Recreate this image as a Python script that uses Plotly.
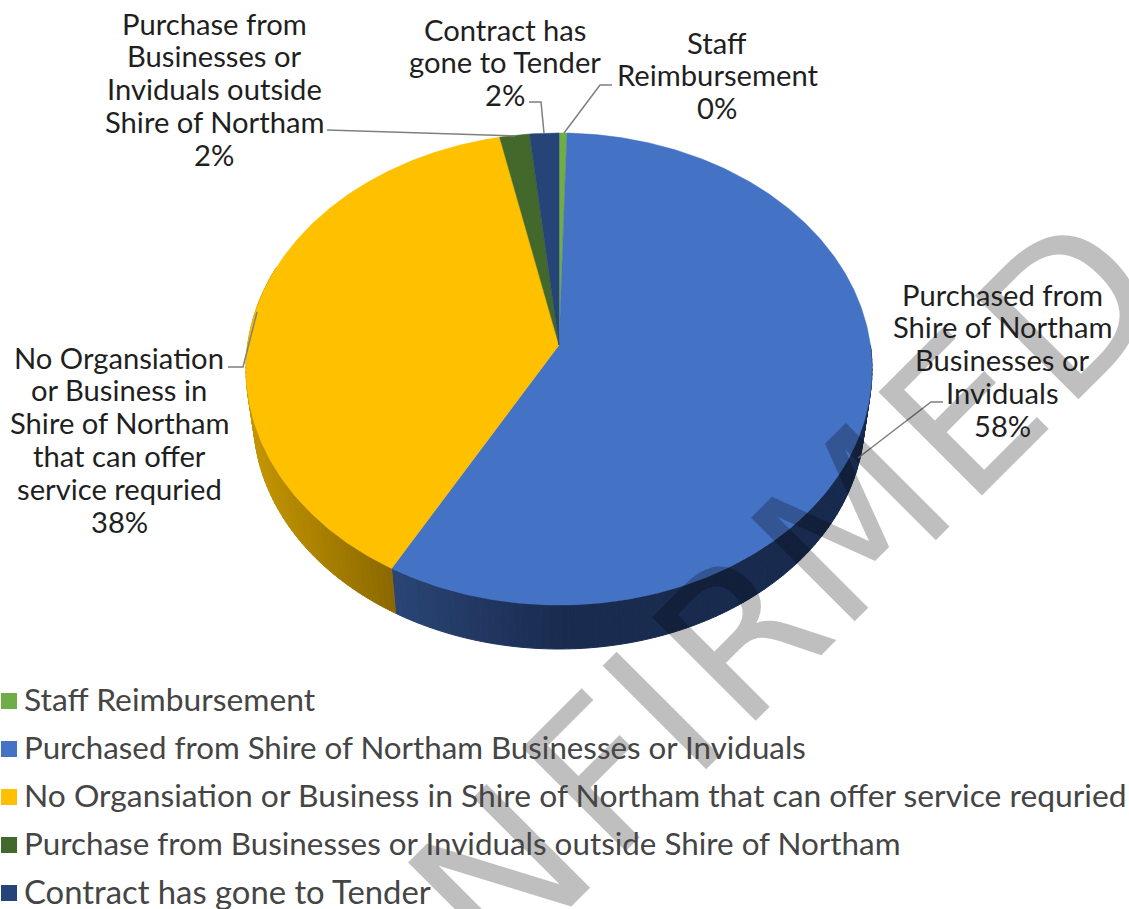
import numpy as np
import plotly.graph_objects as go

categories = ["Staff Reimbursement",
              "Purchased from Shire of Northam Businesses or Inviduals",
              "No Organsiation or Business in Shire of Northam that can offer service requried",
              "Purchase from Businesses or Inviduals outside Shire of Northam",
              "Contract has gone to Tender"]
values = [0.45, 57.7, 38.49, 1.7, 1.66]
colors = ["#70AD47", "#4472C4", "#FFC000", "#43682B", "#264478"]
label_lines = [["Staff", "Reimbursement"],
               ["Purchased from", "Shire of Northam", "Businesses or", "Inviduals"],
               ["No Organsiation", "or Business in", "Shire of Northam", "that can offer", "service requried"],
               ["Purchase from", "Businesses or", "Inviduals outside", "Shire of Northam"],
               ["Contract has", "gone to Tender"]]
watermark_letters = ["N", "F", "I", "R", "M", "E", "D"]

W, H = 1129, 909
CX, CY = 559, 345
KX, BY, CP = 311.4, -198.5, 0.1017
S_LOW, DY_LOW = 0.976, 50.2
FONT = "Lato"
FS_LABEL = 29.2
FS_LEGEND = [31.8, 31.3, 31.8, 31.4, 32.8]

watermark_pos = [(500.5, 877.5), (603, 774.5), (663.5, 713), (741.5, 636), (852, 525), (963.5, 415), (1069.5, 308.5)]
label_pos = [(717, 42), (1002, 294), (119, 357), (214, 23), (505, 29)]
leaders = [[(564, 133), (600, 85), (612, 85)],
           [(858, 458), (931, 402), (943, 402)],
           [(257, 312), (243, 367), (228, 367)],
           [(515, 136), (327, 130)],
           [(544, 133), (541, 102), (529, 102)]]
legend_y = [701, 749, 797, 845, 893]

side_stops = {1: ([396, 560, 870], ["#2A4575", "#1A2C50", "#172A4E"]),
              2: ([252, 395], ["#C49500", "#8A6800"])}


def top_pt(t):
    u, v = np.sin(t), np.cos(t)
    d = 1 + CP * v
    return CX + KX * u / d, (CY + BY * v) / d


def low_pt(t):
    x, y = top_pt(t)
    return CX + S_LOW * (x - CX), CY + DY_LOW + S_LOW * (y - CY)


def hex2rgb(h):
    return np.array([int(h[i:i + 2], 16) for i in (1, 3, 5)], float)


def shade(i, x):
    xs, cs = side_stops[i]
    rgb = [np.interp(x, xs, [hex2rgb(c)[k] for c in cs]) for k in range(3)]
    return "rgb(%d,%d,%d)" % tuple(rgb)


fig = go.Figure()
fractions = np.array(values) / sum(values)
edges = np.concatenate([[0], np.cumsum(fractions)]) * 2 * np.pi

# side wall, drawn as thin strips so that the shading can vary along it
for i, c in enumerate(colors):
    if i not in side_stops:
        continue
    a = max(edges[i], np.pi / 2)
    b = edges[i + 1]
    n = max(2, int((b - a) / 0.02))
    ts = np.linspace(a, b, n + 1)
    for t0, t1 in zip(ts[:-1], ts[1:]):
        if np.cos((t0 + t1) / 2) > 0.35:
            continue
        p = [top_pt(t0), top_pt(t1), low_pt(t1), low_pt(t0), top_pt(t0)]
        col = shade(i, (p[0][0] + p[1][0]) / 2)
        fig.add_trace(go.Scatter(x=[q[0] for q in p], y=[q[1] for q in p], mode="lines",
                                 fill="toself", fillcolor=col, line=dict(color=col, width=1),
                                 hoverinfo="skip", showlegend=False))

# top face
for i, c in enumerate(colors):
    ts = np.linspace(edges[i], edges[i + 1], max(3, int((edges[i + 1] - edges[i]) / 0.01)))
    pts = [top_pt(t) for t in ts]
    xs = [CX] + [q[0] for q in pts] + [CX]
    ys = [CY] + [q[1] for q in pts] + [CY]
    fig.add_trace(go.Scatter(x=xs, y=ys, mode="lines", fill="toself", fillcolor=c,
                             line=dict(color=c, width=0.5), name=categories[i],
                             hoverinfo="name", showlegend=False))

# leader lines
for seg in leaders:
    fig.add_trace(go.Scatter(x=[q[0] for q in seg], y=[q[1] for q in seg], mode="lines",
                             line=dict(color="#7F7F7F", width=1.5), hoverinfo="skip", showlegend=False))

# legend swatches
fig.add_trace(go.Scatter(x=[9] * 5, y=legend_y, mode="markers",
                         marker=dict(symbol="square", size=16, color=colors),
                         hoverinfo="skip", showlegend=False))

ann = []
# watermark
for ch, (wx, wy) in zip(watermark_letters, watermark_pos):
    ann.append(dict(x=wx, y=wy, xref="x", yref="y", text=ch, showarrow=False, textangle=-45,
                    font=dict(family="DejaVu Sans", size=201, color="rgba(0,0,0,0.25)")))
for i, lines in enumerate(label_lines):
    cx, y0 = label_pos[i]
    all_lines = lines + ["%d%%" % round(values[i])]
    for j, line in enumerate(all_lines):
        ann.append(dict(x=cx, y=y0 + j * 32.8, xref="x", yref="y", text=line, showarrow=False,
                        font=dict(family=FONT, size=FS_LABEL, color="#1F1F1F")))
for i, name in enumerate(categories):
    ann.append(dict(x=22, y=legend_y[i] - 2, xref="x", yref="y", text=name, showarrow=False, xanchor="left",
                    font=dict(family=FONT, size=FS_LEGEND[i], color="#454545")))

fig.update_layout(width=W, height=H, margin=dict(l=0, r=0, t=0, b=0),
                  paper_bgcolor="white", plot_bgcolor="white", annotations=ann,
                  xaxis=dict(range=[0, W], visible=False, fixedrange=True),
                  yaxis=dict(range=[H, 0], visible=False, fixedrange=True))
fig.write_html("out.html", config={"displayModeBar": False},
               post_script="document.body.style.margin='0';document.documentElement.style.overflow='hidden';")
